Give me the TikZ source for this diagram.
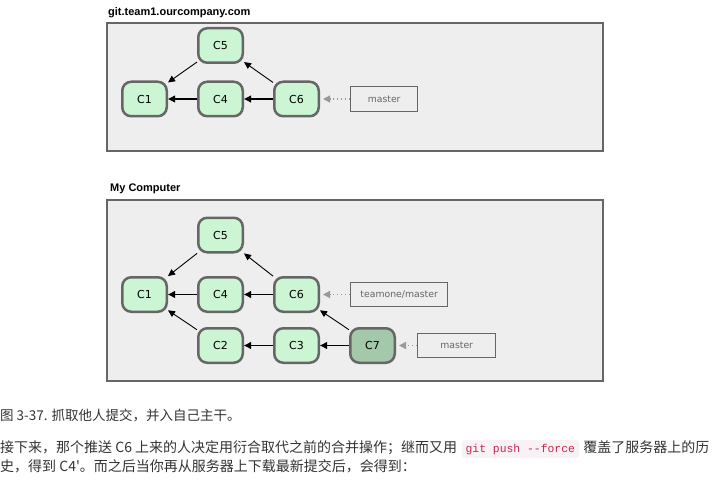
\documentclass[tikz,border=0pt]{standalone}
\usepackage{fontspec}
\setmainfont{Liberation Sans}
\setmonofont{Liberation Mono}
\newfontfamily\cjk{Noto Sans CJK SC}
\newfontfamily\commitfont{DejaVu Sans}
\usetikzlibrary{arrows.meta,positioning}

\definecolor{repobg}{HTML}{EEEEEE}
\definecolor{edgegray}{HTML}{666666}
\definecolor{commitgreen}{HTML}{CCF5D3}
\definecolor{localgreen}{HTML}{A3C8AA}
\definecolor{refgray}{HTML}{999999}
\definecolor{bodytext}{HTML}{333333}
\definecolor{codered}{HTML}{C7254E}
\definecolor{codebg}{HTML}{F9F2F4}

\begin{document}
\begin{tikzpicture}[
  x=1pt, y=-1pt,
  node distance=30pt and 29pt,
  repo/.style={draw=edgegray, line width=1.6pt, fill=repobg},
  repotitle/.style={anchor=base west, inner sep=0pt, font=\bfseries\fontsize{11}{13}\selectfont},
  commit/.style={draw=edgegray, line width=2.5pt, fill=commitgreen, rounded corners=9pt,
    minimum width=44.5pt, minimum height=34.5pt, inner sep=0pt,
    font=\commitfont\fontsize{11}{13}\selectfont},
  branch/.style={draw=edgegray, line width=1.3pt, minimum height=24.5pt, inner sep=0pt,
    text=edgegray, font=\commitfont\fontsize{9.3}{11}\selectfont},
  parent/.style={-{Triangle[length=7pt,width=6.5pt]}, line width=1.8pt},
  merge/.style={-{Triangle[length=7pt,width=6.5pt]}, line width=0.9pt},
  points/.style={-{Triangle[length=7pt,width=7pt]}, draw=refgray, line width=1.3pt,
    dash pattern=on 1.5pt off 2.5pt, shorten >=3pt},
  txt/.style={anchor=base west, inner sep=0pt, text=bodytext, font=\cjk\fontsize{14}{16}\selectfont},
  chip/.style={fill=codebg, rounded corners=3pt, inner xsep=4pt, inner ysep=3.5pt,
    text=codered, font=\ttfamily\fontsize{11.4}{13}\selectfont}
]
  \useasboundingbox (0,0) rectangle (716,495);

  % Server repository
  \node[repotitle] (servertitle) at (108,16) {git.team1.ourcompany.com};
  \draw[repo] (107,23) rectangle (603,151);

  \node[commit] (sc1) at (144.5,99) {C1};
  \node[commit, right=of sc1] (sc4) {C4};
  \node[commit, right=of sc4] (sc6) {C6};
  \node[commit, above=16.5pt of sc4] (sc5) {C5};
  \node[branch, minimum width=67pt, right=30pt of sc6] (smaster) {master};

  \draw[parent] (sc4) -- (sc1);
  \draw[parent] (sc6) -- (sc4);
  \draw[merge] (sc5) -- (sc1);
  \draw[merge] (sc6) -- (sc5);
  \draw[points] (smaster) -- (sc6);

  % Local repository
  \node[repotitle] (localtitle) at (110,192) {My Computer};
  \draw[repo] (107,200) rectangle (603,381);

  \node[commit] (c1) at (144.5,294.5) {C1};
  \node[commit, right=of c1] (c4) {C4};
  \node[commit, right=of c4] (c6) {C6};
  \node[commit, above=22.5pt of c4] (c5) {C5};
  \node[commit, below=14pt of c4] (c2) {C2};
  \node[commit, right=of c2] (c3) {C3};
  \node[commit, fill=localgreen, right=of c3] (c7) {C7};
  \node[branch, minimum width=97pt, right=30pt of c6] (teamone) {teamone/master};
  \node[branch, minimum width=78pt, right=21pt of c7] (master) {master};

  \draw[parent] (c4) -- (c1);
  \draw[parent] (c6) -- (c4);
  \draw[parent] (c3) -- (c2);
  \draw[parent] (c7) -- (c3);
  \draw[merge] (c5) -- (c1);
  \draw[merge] (c6) -- (c5);
  \draw[merge] (c2) -- (c1);
  \draw[merge] (c7) -- (c6);
  \draw[points] (teamone) -- (c6);
  \draw[points] (master) -- (c7);

  % Caption and text
  \node[txt, font=\cjk\fontsize{13.5}{16}\selectfont] (caption) at (0,420) {图 3-37. 抓取他人提交，并入自己主干。};
  \node[txt] (line1) at (0,452) {接下来，那个推送 C6 上来的人决定用衍合取代之前的合并操作；继而又用};
  \node[chip, base right=4pt of line1] (cmd) {git push -{}-force};
  \node[txt, base right=4pt of cmd] (line1b) {覆盖了服务器上的历};
  \node[txt] (line2) at (0,471) {史，得到 C4'。而之后当你再从服务器上下载最新提交后，会得到：};
\end{tikzpicture}
\end{document}
